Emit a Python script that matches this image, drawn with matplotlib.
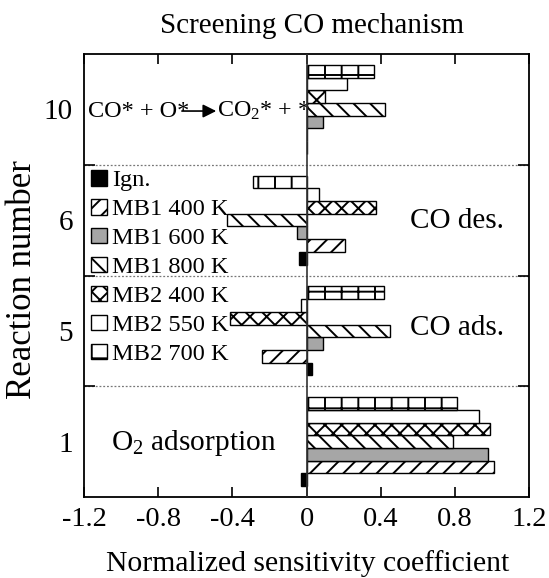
import numpy as np
import matplotlib
matplotlib.use('Agg')
import matplotlib.pyplot as plt
from matplotlib.ticker import FixedLocator

plt.rcParams['font.family'] = ['Liberation Serif', 'DejaVu Serif']
plt.rcParams['mathtext.fontset'] = 'custom'
plt.rcParams['mathtext.rm'] = 'Liberation Serif'
plt.rcParams['mathtext.it'] = 'Liberation Serif'
plt.rcParams['hatch.linewidth'] = 1.4

# reactions, bottom to top
reactions = ['1', '5', '6', '10']

# series, bottom to top inside each group
series = ['Ign.', 'MB1 400 K', 'MB1 600 K', 'MB1 800 K', 'MB2 400 K', 'MB2 550 K', 'MB2 700 K']
ign      = [-0.03,  0.03, -0.04, 0.0]
mb1_400  = [ 1.01, -0.24,  0.21, 0.005]
mb1_600  = [ 0.98,  0.09, -0.05, 0.087]
mb1_800  = [ 0.79,  0.45, -0.43, 0.425]
mb2_400  = [ 0.99, -0.415, 0.375, 0.10]
mb2_550  = [ 0.93, -0.03,  0.07, 0.22]
mb2_700  = [ 0.81,  0.42, -0.29, 0.366]

values = [ign, mb1_400, mb1_600, mb1_800, mb2_400, mb2_550, mb2_700]
colors = ['black', 'white', '#a6a6a6', 'white', 'white', 'white', 'white']
hatches = [None, '//', None, '\\\\', 'xx', None, '+']

fig = plt.figure(figsize=(5.49, 5.78), dpi=100)
ax = fig.add_axes([84/549, 81/578, 445/549, 443/578])

h = 0.115
y = np.arange(len(reactions))
for i, (lab, v) in enumerate(zip(series, values)):
    ax.barh(y + (i - 3) * h, v, height=h, color=colors[i], hatch=hatches[i],
            edgecolor='black', linewidth=1.0, label=lab, zorder=3)

ax.axvline(0, color='#333333', lw=1.2, zorder=4)
for s in [0.5, 1.5, 2.5]:
    ax.axhline(s, color='#777777', lw=0.9, ls=(0, (1.5, 1.5)), zorder=1)

ax.set_xlim(-1.2, 1.2)
ax.set_ylim(-0.5, 3.5)
ax.set_xticks([-1.2, -0.8, -0.4, 0, 0.4, 0.8, 1.2])
ax.set_xticklabels(['-1.2', '-0.8', '-0.4', '0', '0.4', '0.8', '1.2'])
ax.set_yticks(y)
ax.set_yticklabels(reactions)
ax.yaxis.set_minor_locator(FixedLocator([0.5, 1.5, 2.5]))
ax.tick_params(axis='x', which='major', direction='in', length=7, width=1.2,
               top=True, labelsize=20.5, pad=7)
ax.tick_params(axis='y', which='major', length=0, labelsize=21, pad=8)
ax.tick_params(axis='y', which='minor', direction='in', length=8, width=1.2,
               left=True, right=True)
for sp in ax.spines.values():
    sp.set_linewidth(1.3)

ax.set_ylabel('Reaction number', fontsize=25, va='center')
ax.yaxis.set_label_coords((23 - 84) / 445, 0.49)
fig.text(307.5/549, 7/578, 'Normalized sensitivity coefficient', fontsize=21.3,
         ha='center', va='baseline')
fig.text(312.5/549, 1 - 33/578, 'Screening CO mechanism', fontsize=21,
         ha='center', va='baseline')

# annotations
ax.text(-1.178, 2.93, 'CO* + O*', fontsize=17.5, va='baseline', ha='left')
ax.annotate('', xy=(-0.487, 2.985), xytext=(-0.672, 2.985),
            arrowprops=dict(arrowstyle='-|>', color='black', lw=1.2,
                            mutation_scale=20, shrinkA=0, shrinkB=0))
ax.text(-0.483, 2.93, 'CO$_2$* + *', fontsize=17.3, va='baseline', ha='left')
ax.text(0.809, 1.929, 'CO des.', fontsize=21, va='baseline', ha='center')
ax.text(0.809, 0.963, 'CO ads.', fontsize=21, va='baseline', ha='center')
ax.text(-0.607, -0.076, 'O$_2$ adsorption', fontsize=21.2, va='baseline', ha='center')

ax.legend(loc='upper left', bbox_to_anchor=(0.0157, 0.738), frameon=False,
          fontsize=17.6, handlelength=0.65, handleheight=0.6, handletextpad=0.2,
          labelspacing=0.31, borderaxespad=0, borderpad=0)

fig.savefig('out.png', dpi=100)
